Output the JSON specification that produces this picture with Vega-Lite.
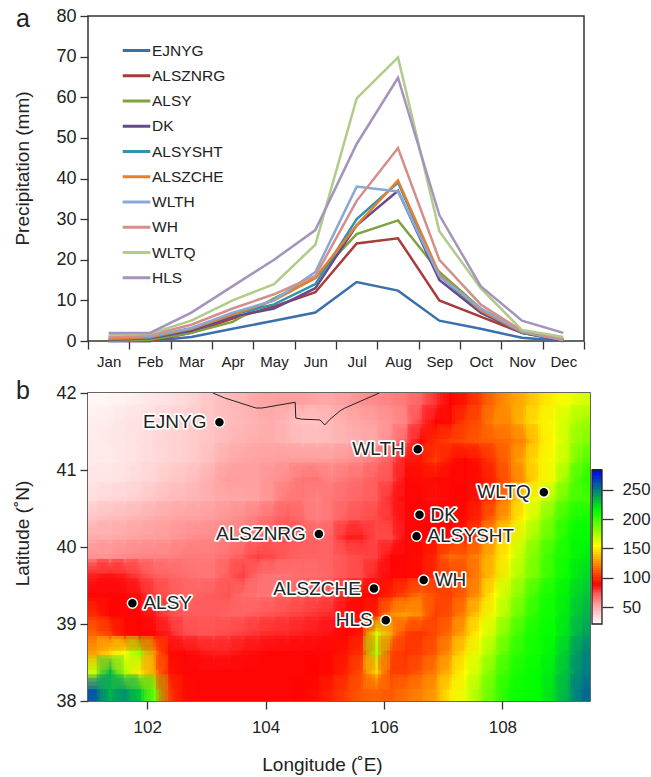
{"$schema":"https://vega.github.io/schema/vega-lite/v6.json","background":"white","padding":{"left":12,"top":6,"right":0,"bottom":0},"spacing":8,
"config":{"view":{"stroke":"#333","strokeWidth":1.5},"font":"Liberation Sans","axis":{"labelFont":"Liberation Sans","titleFont":"Liberation Sans","labelColor":"#222","titleColor":"#222","tickColor":"#333","domain":false,"grid":false,"tickWidth":1.3,"tickSize":8,"titleFontWeight":"normal","titleFontSize":19,"labelFontSize":18,"labelPadding":4},"title":{"font":"Liberation Sans","fontSize":25,"fontWeight":"normal","color":"#222","anchor":"start","frame":"group"}},
"datasets":{"rain":[
{"m":"Jan","s":"EJNYG","p":0},{"m":"Feb","s":"EJNYG","p":0},{"m":"Mar","s":"EJNYG","p":1},{"m":"Apr","s":"EJNYG","p":3},{"m":"May","s":"EJNYG","p":5},{"m":"Jun","s":"EJNYG","p":7},{"m":"Jul","s":"EJNYG","p":14.5},{"m":"Aug","s":"EJNYG","p":12.4},{"m":"Sep","s":"EJNYG","p":5},{"m":"Oct","s":"EJNYG","p":3},{"m":"Nov","s":"EJNYG","p":0.8},{"m":"Dec","s":"EJNYG","p":0},
{"m":"Jan","s":"ALSZNRG","p":0},{"m":"Feb","s":"ALSZNRG","p":0},{"m":"Mar","s":"ALSZNRG","p":2},{"m":"Apr","s":"ALSZNRG","p":5.5},{"m":"May","s":"ALSZNRG","p":8.5},{"m":"Jun","s":"ALSZNRG","p":12},{"m":"Jul","s":"ALSZNRG","p":24},{"m":"Aug","s":"ALSZNRG","p":25.3},{"m":"Sep","s":"ALSZNRG","p":10},{"m":"Oct","s":"ALSZNRG","p":6},{"m":"Nov","s":"ALSZNRG","p":2},{"m":"Dec","s":"ALSZNRG","p":0},
{"m":"Jan","s":"ALSY","p":0},{"m":"Feb","s":"ALSY","p":0.3},{"m":"Mar","s":"ALSY","p":2},{"m":"Apr","s":"ALSY","p":4.7},{"m":"May","s":"ALSY","p":10.5},{"m":"Jun","s":"ALSY","p":15.5},{"m":"Jul","s":"ALSY","p":26.3},{"m":"Aug","s":"ALSY","p":29.7},{"m":"Sep","s":"ALSY","p":17},{"m":"Oct","s":"ALSY","p":8},{"m":"Nov","s":"ALSY","p":2.5},{"m":"Dec","s":"ALSY","p":0.3},
{"m":"Jan","s":"DK","p":0.3},{"m":"Feb","s":"DK","p":0.7},{"m":"Mar","s":"DK","p":2.5},{"m":"Apr","s":"DK","p":6},{"m":"May","s":"DK","p":8},{"m":"Jun","s":"DK","p":13},{"m":"Jul","s":"DK","p":28.5},{"m":"Aug","s":"DK","p":37},{"m":"Sep","s":"DK","p":15},{"m":"Oct","s":"DK","p":7},{"m":"Nov","s":"DK","p":2},{"m":"Dec","s":"DK","p":0.3},
{"m":"Jan","s":"ALSYSHT","p":0.5},{"m":"Feb","s":"ALSYSHT","p":0.8},{"m":"Mar","s":"ALSYSHT","p":3},{"m":"Apr","s":"ALSYSHT","p":6.5},{"m":"May","s":"ALSYSHT","p":9},{"m":"Jun","s":"ALSYSHT","p":14},{"m":"Jul","s":"ALSYSHT","p":30},{"m":"Aug","s":"ALSYSHT","p":39},{"m":"Sep","s":"ALSYSHT","p":16},{"m":"Oct","s":"ALSYSHT","p":7.5},{"m":"Nov","s":"ALSYSHT","p":2},{"m":"Dec","s":"ALSYSHT","p":0.3},
{"m":"Jan","s":"ALSZCHE","p":0.5},{"m":"Feb","s":"ALSZCHE","p":1},{"m":"Mar","s":"ALSZCHE","p":3},{"m":"Apr","s":"ALSZCHE","p":6.5},{"m":"May","s":"ALSZCHE","p":10},{"m":"Jun","s":"ALSZCHE","p":15.5},{"m":"Jul","s":"ALSZCHE","p":28.5},{"m":"Aug","s":"ALSZCHE","p":39.5},{"m":"Sep","s":"ALSZCHE","p":16.5},{"m":"Oct","s":"ALSZCHE","p":7.5},{"m":"Nov","s":"ALSZCHE","p":2.2},{"m":"Dec","s":"ALSZCHE","p":0.3},
{"m":"Jan","s":"WLTH","p":1},{"m":"Feb","s":"WLTH","p":1.2},{"m":"Mar","s":"WLTH","p":3.2},{"m":"Apr","s":"WLTH","p":7},{"m":"May","s":"WLTH","p":10},{"m":"Jun","s":"WLTH","p":17},{"m":"Jul","s":"WLTH","p":38},{"m":"Aug","s":"WLTH","p":36.8},{"m":"Sep","s":"WLTH","p":16},{"m":"Oct","s":"WLTH","p":8},{"m":"Nov","s":"WLTH","p":2.3},{"m":"Dec","s":"WLTH","p":0.2},
{"m":"Jan","s":"WH","p":1},{"m":"Feb","s":"WH","p":1.5},{"m":"Mar","s":"WH","p":4},{"m":"Apr","s":"WH","p":8},{"m":"May","s":"WH","p":11.5},{"m":"Jun","s":"WH","p":16},{"m":"Jul","s":"WH","p":34.5},{"m":"Aug","s":"WH","p":47.5},{"m":"Sep","s":"WH","p":20},{"m":"Oct","s":"WH","p":9},{"m":"Nov","s":"WH","p":2.5},{"m":"Dec","s":"WH","p":0.5},
{"m":"Jan","s":"WLTQ","p":1.5},{"m":"Feb","s":"WLTQ","p":1.8},{"m":"Mar","s":"WLTQ","p":5},{"m":"Apr","s":"WLTQ","p":10},{"m":"May","s":"WLTQ","p":14},{"m":"Jun","s":"WLTQ","p":23.7},{"m":"Jul","s":"WLTQ","p":59.7},{"m":"Aug","s":"WLTQ","p":69.8},{"m":"Sep","s":"WLTQ","p":27},{"m":"Oct","s":"WLTQ","p":13},{"m":"Nov","s":"WLTQ","p":2.7},{"m":"Dec","s":"WLTQ","p":1},
{"m":"Jan","s":"HLS","p":2},{"m":"Feb","s":"HLS","p":2},{"m":"Mar","s":"HLS","p":7},{"m":"Apr","s":"HLS","p":13.5},{"m":"May","s":"HLS","p":20},{"m":"Jun","s":"HLS","p":27.3},{"m":"Jul","s":"HLS","p":48.5},{"m":"Aug","s":"HLS","p":64.8},{"m":"Sep","s":"HLS","p":31},{"m":"Oct","s":"HLS","p":13.5},{"m":"Nov","s":"HLS","p":5},{"m":"Dec","s":"HLS","p":2}],
"cells":[
{"lon":101.125,"lat":41.875,"v":24},{"lon":101.375,"lat":41.875,"v":25},{"lon":101.625,"lat":41.875,"v":26},{"lon":101.875,"lat":41.875,"v":28},{"lon":102.125,"lat":41.875,"v":30},{"lon":102.375,"lat":41.875,"v":32},{"lon":102.625,"lat":41.875,"v":34},{"lon":102.875,"lat":41.875,"v":38},{"lon":103.125,"lat":41.875,"v":42},{"lon":103.375,"lat":41.875,"v":45},{"lon":103.625,"lat":41.875,"v":48},{"lon":103.875,"lat":41.875,"v":52},{"lon":104.125,"lat":41.875,"v":54},{"lon":104.375,"lat":41.875,"v":55},{"lon":104.625,"lat":41.875,"v":55},{"lon":104.875,"lat":41.875,"v":52},{"lon":105.125,"lat":41.875,"v":52},{"lon":105.375,"lat":41.875,"v":55},{"lon":105.625,"lat":41.875,"v":58},{"lon":105.875,"lat":41.875,"v":60},{"lon":106.125,"lat":41.875,"v":62},{"lon":106.375,"lat":41.875,"v":65},{"lon":106.625,"lat":41.875,"v":70},{"lon":106.875,"lat":41.875,"v":80},{"lon":107.125,"lat":41.875,"v":90},{"lon":107.375,"lat":41.875,"v":95},{"lon":107.625,"lat":41.875,"v":105},{"lon":107.875,"lat":41.875,"v":118},{"lon":108.125,"lat":41.875,"v":128},{"lon":108.375,"lat":41.875,"v":135},{"lon":108.625,"lat":41.875,"v":145},{"lon":108.875,"lat":41.875,"v":152},{"lon":109.125,"lat":41.875,"v":158},{"lon":109.375,"lat":41.875,"v":165},
{"lon":101.125,"lat":41.625,"v":27},{"lon":101.375,"lat":41.625,"v":28},{"lon":101.625,"lat":41.625,"v":30},{"lon":101.875,"lat":41.625,"v":32},{"lon":102.125,"lat":41.625,"v":34},{"lon":102.375,"lat":41.625,"v":36},{"lon":102.625,"lat":41.625,"v":38},{"lon":102.875,"lat":41.625,"v":40},{"lon":103.125,"lat":41.625,"v":42},{"lon":103.375,"lat":41.625,"v":44},{"lon":103.625,"lat":41.625,"v":46},{"lon":103.875,"lat":41.625,"v":48},{"lon":104.125,"lat":41.625,"v":50},{"lon":104.375,"lat":41.625,"v":46},{"lon":104.625,"lat":41.625,"v":42},{"lon":104.875,"lat":41.625,"v":42},{"lon":105.125,"lat":41.625,"v":46},{"lon":105.375,"lat":41.625,"v":50},{"lon":105.625,"lat":41.625,"v":52},{"lon":105.875,"lat":41.625,"v":55},{"lon":106.125,"lat":41.625,"v":58},{"lon":106.375,"lat":41.625,"v":62},{"lon":106.625,"lat":41.625,"v":78},{"lon":106.875,"lat":41.625,"v":90},{"lon":107.125,"lat":41.625,"v":92},{"lon":107.375,"lat":41.625,"v":105},{"lon":107.625,"lat":41.625,"v":110},{"lon":107.875,"lat":41.625,"v":125},{"lon":108.125,"lat":41.625,"v":125},{"lon":108.375,"lat":41.625,"v":140},{"lon":108.625,"lat":41.625,"v":150},{"lon":108.875,"lat":41.625,"v":158},{"lon":109.125,"lat":41.625,"v":168},{"lon":109.375,"lat":41.625,"v":178},
{"lon":101.125,"lat":41.375,"v":28},{"lon":101.375,"lat":41.375,"v":29},{"lon":101.625,"lat":41.375,"v":30},{"lon":101.875,"lat":41.375,"v":32},{"lon":102.125,"lat":41.375,"v":34},{"lon":102.375,"lat":41.375,"v":36},{"lon":102.625,"lat":41.375,"v":38},{"lon":102.875,"lat":41.375,"v":40},{"lon":103.125,"lat":41.375,"v":42},{"lon":103.375,"lat":41.375,"v":46},{"lon":103.625,"lat":41.375,"v":48},{"lon":103.875,"lat":41.375,"v":50},{"lon":104.125,"lat":41.375,"v":50},{"lon":104.375,"lat":41.375,"v":48},{"lon":104.625,"lat":41.375,"v":44},{"lon":104.875,"lat":41.375,"v":44},{"lon":105.125,"lat":41.375,"v":46},{"lon":105.375,"lat":41.375,"v":48},{"lon":105.625,"lat":41.375,"v":50},{"lon":105.875,"lat":41.375,"v":52},{"lon":106.125,"lat":41.375,"v":60},{"lon":106.375,"lat":41.375,"v":72},{"lon":106.625,"lat":41.375,"v":88},{"lon":106.875,"lat":41.375,"v":100},{"lon":107.125,"lat":41.375,"v":105},{"lon":107.375,"lat":41.375,"v":108},{"lon":107.625,"lat":41.375,"v":112},{"lon":107.875,"lat":41.375,"v":115},{"lon":108.125,"lat":41.375,"v":118},{"lon":108.375,"lat":41.375,"v":125},{"lon":108.625,"lat":41.375,"v":145},{"lon":108.875,"lat":41.375,"v":155},{"lon":109.125,"lat":41.375,"v":170},{"lon":109.375,"lat":41.375,"v":185},
{"lon":101.125,"lat":41.125,"v":28},{"lon":101.375,"lat":41.125,"v":28},{"lon":101.625,"lat":41.125,"v":30},{"lon":101.875,"lat":41.125,"v":32},{"lon":102.125,"lat":41.125,"v":34},{"lon":102.375,"lat":41.125,"v":36},{"lon":102.625,"lat":41.125,"v":38},{"lon":102.875,"lat":41.125,"v":40},{"lon":103.125,"lat":41.125,"v":45},{"lon":103.375,"lat":41.125,"v":50},{"lon":103.625,"lat":41.125,"v":52},{"lon":103.875,"lat":41.125,"v":54},{"lon":104.125,"lat":41.125,"v":55},{"lon":104.375,"lat":41.125,"v":56},{"lon":104.625,"lat":41.125,"v":56},{"lon":104.875,"lat":41.125,"v":56},{"lon":105.125,"lat":41.125,"v":56},{"lon":105.375,"lat":41.125,"v":58},{"lon":105.625,"lat":41.125,"v":60},{"lon":105.875,"lat":41.125,"v":65},{"lon":106.125,"lat":41.125,"v":72},{"lon":106.375,"lat":41.125,"v":85},{"lon":106.625,"lat":41.125,"v":95},{"lon":106.875,"lat":41.125,"v":105},{"lon":107.125,"lat":41.125,"v":95},{"lon":107.375,"lat":41.125,"v":90},{"lon":107.625,"lat":41.125,"v":95},{"lon":107.875,"lat":41.125,"v":105},{"lon":108.125,"lat":41.125,"v":118},{"lon":108.375,"lat":41.125,"v":135},{"lon":108.625,"lat":41.125,"v":150},{"lon":108.875,"lat":41.125,"v":158},{"lon":109.125,"lat":41.125,"v":172},{"lon":109.375,"lat":41.125,"v":195},
{"lon":101.125,"lat":40.875,"v":30},{"lon":101.375,"lat":40.875,"v":30},{"lon":101.625,"lat":40.875,"v":32},{"lon":101.875,"lat":40.875,"v":34},{"lon":102.125,"lat":40.875,"v":36},{"lon":102.375,"lat":40.875,"v":40},{"lon":102.625,"lat":40.875,"v":42},{"lon":102.875,"lat":40.875,"v":46},{"lon":103.125,"lat":40.875,"v":50},{"lon":103.375,"lat":40.875,"v":56},{"lon":103.625,"lat":40.875,"v":55},{"lon":103.875,"lat":40.875,"v":55},{"lon":104.125,"lat":40.875,"v":58},{"lon":104.375,"lat":40.875,"v":60},{"lon":104.625,"lat":40.875,"v":66},{"lon":104.875,"lat":40.875,"v":66},{"lon":105.125,"lat":40.875,"v":62},{"lon":105.375,"lat":40.875,"v":66},{"lon":105.625,"lat":40.875,"v":68},{"lon":105.875,"lat":40.875,"v":72},{"lon":106.125,"lat":40.875,"v":75},{"lon":106.375,"lat":40.875,"v":88},{"lon":106.625,"lat":40.875,"v":92},{"lon":106.875,"lat":40.875,"v":92},{"lon":107.125,"lat":40.875,"v":88},{"lon":107.375,"lat":40.875,"v":88},{"lon":107.625,"lat":40.875,"v":92},{"lon":107.875,"lat":40.875,"v":100},{"lon":108.125,"lat":40.875,"v":115},{"lon":108.375,"lat":40.875,"v":130},{"lon":108.625,"lat":40.875,"v":150},{"lon":108.875,"lat":40.875,"v":160},{"lon":109.125,"lat":40.875,"v":185},{"lon":109.375,"lat":40.875,"v":205},
{"lon":101.125,"lat":40.625,"v":33},{"lon":101.375,"lat":40.625,"v":35},{"lon":101.625,"lat":40.625,"v":36},{"lon":101.875,"lat":40.625,"v":38},{"lon":102.125,"lat":40.625,"v":42},{"lon":102.375,"lat":40.625,"v":44},{"lon":102.625,"lat":40.625,"v":46},{"lon":102.875,"lat":40.625,"v":48},{"lon":103.125,"lat":40.625,"v":50},{"lon":103.375,"lat":40.625,"v":52},{"lon":103.625,"lat":40.625,"v":52},{"lon":103.875,"lat":40.625,"v":54},{"lon":104.125,"lat":40.625,"v":58},{"lon":104.375,"lat":40.625,"v":65},{"lon":104.625,"lat":40.625,"v":65},{"lon":104.875,"lat":40.625,"v":62},{"lon":105.125,"lat":40.625,"v":66},{"lon":105.375,"lat":40.625,"v":68},{"lon":105.625,"lat":40.625,"v":70},{"lon":105.875,"lat":40.625,"v":72},{"lon":106.125,"lat":40.625,"v":82},{"lon":106.375,"lat":40.625,"v":88},{"lon":106.625,"lat":40.625,"v":88},{"lon":106.875,"lat":40.625,"v":86},{"lon":107.125,"lat":40.625,"v":88},{"lon":107.375,"lat":40.625,"v":90},{"lon":107.625,"lat":40.625,"v":95},{"lon":107.875,"lat":40.625,"v":105},{"lon":108.125,"lat":40.625,"v":125},{"lon":108.375,"lat":40.625,"v":150},{"lon":108.625,"lat":40.625,"v":160},{"lon":108.875,"lat":40.625,"v":175},{"lon":109.125,"lat":40.625,"v":195},{"lon":109.375,"lat":40.625,"v":200},
{"lon":101.125,"lat":40.375,"v":42},{"lon":101.375,"lat":40.375,"v":44},{"lon":101.625,"lat":40.375,"v":46},{"lon":101.875,"lat":40.375,"v":48},{"lon":102.125,"lat":40.375,"v":50},{"lon":102.375,"lat":40.375,"v":52},{"lon":102.625,"lat":40.375,"v":54},{"lon":102.875,"lat":40.375,"v":54},{"lon":103.125,"lat":40.375,"v":56},{"lon":103.375,"lat":40.375,"v":58},{"lon":103.625,"lat":40.375,"v":60},{"lon":103.875,"lat":40.375,"v":64},{"lon":104.125,"lat":40.375,"v":68},{"lon":104.375,"lat":40.375,"v":72},{"lon":104.625,"lat":40.375,"v":68},{"lon":104.875,"lat":40.375,"v":62},{"lon":105.125,"lat":40.375,"v":66},{"lon":105.375,"lat":40.375,"v":72},{"lon":105.625,"lat":40.375,"v":74},{"lon":105.875,"lat":40.375,"v":76},{"lon":106.125,"lat":40.375,"v":80},{"lon":106.375,"lat":40.375,"v":88},{"lon":106.625,"lat":40.375,"v":88},{"lon":106.875,"lat":40.375,"v":90},{"lon":107.125,"lat":40.375,"v":90},{"lon":107.375,"lat":40.375,"v":92},{"lon":107.625,"lat":40.375,"v":100},{"lon":107.875,"lat":40.375,"v":118},{"lon":108.125,"lat":40.375,"v":135},{"lon":108.375,"lat":40.375,"v":155},{"lon":108.625,"lat":40.375,"v":172},{"lon":108.875,"lat":40.375,"v":190},{"lon":109.125,"lat":40.375,"v":205},{"lon":109.375,"lat":40.375,"v":212},
{"lon":101.125,"lat":40.125,"v":50},{"lon":101.375,"lat":40.125,"v":50},{"lon":101.625,"lat":40.125,"v":52},{"lon":101.875,"lat":40.125,"v":54},{"lon":102.125,"lat":40.125,"v":55},{"lon":102.375,"lat":40.125,"v":56},{"lon":102.625,"lat":40.125,"v":58},{"lon":102.875,"lat":40.125,"v":60},{"lon":103.125,"lat":40.125,"v":60},{"lon":103.375,"lat":40.125,"v":60},{"lon":103.625,"lat":40.125,"v":62},{"lon":103.875,"lat":40.125,"v":65},{"lon":104.125,"lat":40.125,"v":70},{"lon":104.375,"lat":40.125,"v":74},{"lon":104.625,"lat":40.125,"v":72},{"lon":104.875,"lat":40.125,"v":70},{"lon":105.125,"lat":40.125,"v":70},{"lon":105.375,"lat":40.125,"v":84},{"lon":105.625,"lat":40.125,"v":84},{"lon":105.875,"lat":40.125,"v":76},{"lon":106.125,"lat":40.125,"v":76},{"lon":106.375,"lat":40.125,"v":88},{"lon":106.625,"lat":40.125,"v":88},{"lon":106.875,"lat":40.125,"v":90},{"lon":107.125,"lat":40.125,"v":92},{"lon":107.375,"lat":40.125,"v":95},{"lon":107.625,"lat":40.125,"v":108},{"lon":107.875,"lat":40.125,"v":130},{"lon":108.125,"lat":40.125,"v":148},{"lon":108.375,"lat":40.125,"v":165},{"lon":108.625,"lat":40.125,"v":182},{"lon":108.875,"lat":40.125,"v":195},{"lon":109.125,"lat":40.125,"v":212},{"lon":109.375,"lat":40.125,"v":215},
{"lon":101.125,"lat":39.875,"v":58},{"lon":101.375,"lat":39.875,"v":58},{"lon":101.625,"lat":39.875,"v":60},{"lon":101.875,"lat":39.875,"v":62},{"lon":102.125,"lat":39.875,"v":62},{"lon":102.375,"lat":39.875,"v":62},{"lon":102.625,"lat":39.875,"v":64},{"lon":102.875,"lat":39.875,"v":64},{"lon":103.125,"lat":39.875,"v":64},{"lon":103.375,"lat":39.875,"v":68},{"lon":103.625,"lat":39.875,"v":72},{"lon":103.875,"lat":39.875,"v":78},{"lon":104.125,"lat":39.875,"v":76},{"lon":104.375,"lat":39.875,"v":72},{"lon":104.625,"lat":39.875,"v":70},{"lon":104.875,"lat":39.875,"v":70},{"lon":105.125,"lat":39.875,"v":70},{"lon":105.375,"lat":39.875,"v":74},{"lon":105.625,"lat":39.875,"v":76},{"lon":105.875,"lat":39.875,"v":78},{"lon":106.125,"lat":39.875,"v":88},{"lon":106.375,"lat":39.875,"v":88},{"lon":106.625,"lat":39.875,"v":92},{"lon":106.875,"lat":39.875,"v":100},{"lon":107.125,"lat":39.875,"v":118},{"lon":107.375,"lat":39.875,"v":115},{"lon":107.625,"lat":39.875,"v":125},{"lon":107.875,"lat":39.875,"v":140},{"lon":108.125,"lat":39.875,"v":155},{"lon":108.375,"lat":39.875,"v":175},{"lon":108.625,"lat":39.875,"v":190},{"lon":108.875,"lat":39.875,"v":205},{"lon":109.125,"lat":39.875,"v":212},{"lon":109.375,"lat":39.875,"v":220},
{"lon":101.125,"lat":39.625,"v":84},{"lon":101.375,"lat":39.625,"v":86},{"lon":101.625,"lat":39.625,"v":84},{"lon":101.875,"lat":39.625,"v":78},{"lon":102.125,"lat":39.625,"v":72},{"lon":102.375,"lat":39.625,"v":70},{"lon":102.625,"lat":39.625,"v":68},{"lon":102.875,"lat":39.625,"v":66},{"lon":103.125,"lat":39.625,"v":66},{"lon":103.375,"lat":39.625,"v":72},{"lon":103.625,"lat":39.625,"v":78},{"lon":103.875,"lat":39.625,"v":68},{"lon":104.125,"lat":39.625,"v":66},{"lon":104.375,"lat":39.625,"v":66},{"lon":104.625,"lat":39.625,"v":68},{"lon":104.875,"lat":39.625,"v":68},{"lon":105.125,"lat":39.625,"v":70},{"lon":105.375,"lat":39.625,"v":74},{"lon":105.625,"lat":39.625,"v":76},{"lon":105.875,"lat":39.625,"v":84},{"lon":106.125,"lat":39.625,"v":88},{"lon":106.375,"lat":39.625,"v":88},{"lon":106.625,"lat":39.625,"v":92},{"lon":106.875,"lat":39.625,"v":100},{"lon":107.125,"lat":39.625,"v":108},{"lon":107.375,"lat":39.625,"v":110},{"lon":107.625,"lat":39.625,"v":125},{"lon":107.875,"lat":39.625,"v":142},{"lon":108.125,"lat":39.625,"v":162},{"lon":108.375,"lat":39.625,"v":178},{"lon":108.625,"lat":39.625,"v":192},{"lon":108.875,"lat":39.625,"v":205},{"lon":109.125,"lat":39.625,"v":215},{"lon":109.375,"lat":39.625,"v":225},
{"lon":101.125,"lat":39.375,"v":88},{"lon":101.375,"lat":39.375,"v":88},{"lon":101.625,"lat":39.375,"v":88},{"lon":101.875,"lat":39.375,"v":86},{"lon":102.125,"lat":39.375,"v":78},{"lon":102.375,"lat":39.375,"v":74},{"lon":102.625,"lat":39.375,"v":70},{"lon":102.875,"lat":39.375,"v":70},{"lon":103.125,"lat":39.375,"v":72},{"lon":103.375,"lat":39.375,"v":74},{"lon":103.625,"lat":39.375,"v":68},{"lon":103.875,"lat":39.375,"v":66},{"lon":104.125,"lat":39.375,"v":66},{"lon":104.375,"lat":39.375,"v":68},{"lon":104.625,"lat":39.375,"v":70},{"lon":104.875,"lat":39.375,"v":72},{"lon":105.125,"lat":39.375,"v":74},{"lon":105.375,"lat":39.375,"v":84},{"lon":105.625,"lat":39.375,"v":90},{"lon":105.875,"lat":39.375,"v":90},{"lon":106.125,"lat":39.375,"v":98},{"lon":106.375,"lat":39.375,"v":108},{"lon":106.625,"lat":39.375,"v":118},{"lon":106.875,"lat":39.375,"v":108},{"lon":107.125,"lat":39.375,"v":105},{"lon":107.375,"lat":39.375,"v":115},{"lon":107.625,"lat":39.375,"v":130},{"lon":107.875,"lat":39.375,"v":155},{"lon":108.125,"lat":39.375,"v":172},{"lon":108.375,"lat":39.375,"v":188},{"lon":108.625,"lat":39.375,"v":205},{"lon":108.875,"lat":39.375,"v":212},{"lon":109.125,"lat":39.375,"v":220},{"lon":109.375,"lat":39.375,"v":230},
{"lon":101.125,"lat":39.125,"v":100},{"lon":101.375,"lat":39.125,"v":90},{"lon":101.625,"lat":39.125,"v":88},{"lon":101.875,"lat":39.125,"v":88},{"lon":102.125,"lat":39.125,"v":84},{"lon":102.375,"lat":39.125,"v":76},{"lon":102.625,"lat":39.125,"v":72},{"lon":102.875,"lat":39.125,"v":72},{"lon":103.125,"lat":39.125,"v":72},{"lon":103.375,"lat":39.125,"v":70},{"lon":103.625,"lat":39.125,"v":70},{"lon":103.875,"lat":39.125,"v":72},{"lon":104.125,"lat":39.125,"v":74},{"lon":104.375,"lat":39.125,"v":76},{"lon":104.625,"lat":39.125,"v":78},{"lon":104.875,"lat":39.125,"v":80},{"lon":105.125,"lat":39.125,"v":82},{"lon":105.375,"lat":39.125,"v":88},{"lon":105.625,"lat":39.125,"v":92},{"lon":105.875,"lat":39.125,"v":98},{"lon":106.125,"lat":39.125,"v":125},{"lon":106.375,"lat":39.125,"v":130},{"lon":106.625,"lat":39.125,"v":125},{"lon":106.875,"lat":39.125,"v":105},{"lon":107.125,"lat":39.125,"v":110},{"lon":107.375,"lat":39.125,"v":125},{"lon":107.625,"lat":39.125,"v":145},{"lon":107.875,"lat":39.125,"v":160},{"lon":108.125,"lat":39.125,"v":178},{"lon":108.375,"lat":39.125,"v":195},{"lon":108.625,"lat":39.125,"v":208},{"lon":108.875,"lat":39.125,"v":213},{"lon":109.125,"lat":39.125,"v":222},{"lon":109.375,"lat":39.125,"v":235},
{"lon":101.125,"lat":38.875,"v":115},{"lon":101.375,"lat":38.875,"v":105},{"lon":101.625,"lat":38.875,"v":92},{"lon":101.875,"lat":38.875,"v":90},{"lon":102.125,"lat":38.875,"v":88},{"lon":102.375,"lat":38.875,"v":84},{"lon":102.625,"lat":38.875,"v":76},{"lon":102.875,"lat":38.875,"v":74},{"lon":103.125,"lat":38.875,"v":74},{"lon":103.375,"lat":38.875,"v":76},{"lon":103.625,"lat":38.875,"v":78},{"lon":103.875,"lat":38.875,"v":80},{"lon":104.125,"lat":38.875,"v":82},{"lon":104.375,"lat":38.875,"v":82},{"lon":104.625,"lat":38.875,"v":84},{"lon":104.875,"lat":38.875,"v":85},{"lon":105.125,"lat":38.875,"v":86},{"lon":105.375,"lat":38.875,"v":90},{"lon":105.625,"lat":38.875,"v":95},{"lon":105.875,"lat":38.875,"v":165},{"lon":106.125,"lat":38.875,"v":130},{"lon":106.375,"lat":38.875,"v":105},{"lon":106.625,"lat":38.875,"v":102},{"lon":106.875,"lat":38.875,"v":108},{"lon":107.125,"lat":38.875,"v":118},{"lon":107.375,"lat":38.875,"v":135},{"lon":107.625,"lat":38.875,"v":155},{"lon":107.875,"lat":38.875,"v":170},{"lon":108.125,"lat":38.875,"v":190},{"lon":108.375,"lat":38.875,"v":205},{"lon":108.625,"lat":38.875,"v":212},{"lon":108.875,"lat":38.875,"v":215},{"lon":109.125,"lat":38.875,"v":225},{"lon":109.375,"lat":38.875,"v":240},
{"lon":101.125,"lat":38.625,"v":130},{"lon":101.375,"lat":38.625,"v":145},{"lon":101.625,"lat":38.625,"v":158},{"lon":101.875,"lat":38.625,"v":180},{"lon":102.125,"lat":38.625,"v":125},{"lon":102.375,"lat":38.625,"v":92},{"lon":102.625,"lat":38.625,"v":88},{"lon":102.875,"lat":38.625,"v":86},{"lon":103.125,"lat":38.625,"v":84},{"lon":103.375,"lat":38.625,"v":84},{"lon":103.625,"lat":38.625,"v":86},{"lon":103.875,"lat":38.625,"v":87},{"lon":104.125,"lat":38.625,"v":88},{"lon":104.375,"lat":38.625,"v":88},{"lon":104.625,"lat":38.625,"v":88},{"lon":104.875,"lat":38.625,"v":88},{"lon":105.125,"lat":38.625,"v":88},{"lon":105.375,"lat":38.625,"v":95},{"lon":105.625,"lat":38.625,"v":102},{"lon":105.875,"lat":38.625,"v":175},{"lon":106.125,"lat":38.625,"v":108},{"lon":106.375,"lat":38.625,"v":102},{"lon":106.625,"lat":38.625,"v":105},{"lon":106.875,"lat":38.625,"v":112},{"lon":107.125,"lat":38.625,"v":128},{"lon":107.375,"lat":38.625,"v":148},{"lon":107.625,"lat":38.625,"v":162},{"lon":107.875,"lat":38.625,"v":180},{"lon":108.125,"lat":38.625,"v":198},{"lon":108.375,"lat":38.625,"v":208},{"lon":108.625,"lat":38.625,"v":212},{"lon":108.875,"lat":38.625,"v":218},{"lon":109.125,"lat":38.625,"v":232},{"lon":109.375,"lat":38.625,"v":248},
{"lon":101.125,"lat":38.375,"v":170},{"lon":101.375,"lat":38.375,"v":235},{"lon":101.625,"lat":38.375,"v":175},{"lon":101.875,"lat":38.375,"v":150},{"lon":102.125,"lat":38.375,"v":130},{"lon":102.375,"lat":38.375,"v":95},{"lon":102.625,"lat":38.375,"v":88},{"lon":102.875,"lat":38.375,"v":88},{"lon":103.125,"lat":38.375,"v":88},{"lon":103.375,"lat":38.375,"v":88},{"lon":103.625,"lat":38.375,"v":88},{"lon":103.875,"lat":38.375,"v":88},{"lon":104.125,"lat":38.375,"v":88},{"lon":104.375,"lat":38.375,"v":88},{"lon":104.625,"lat":38.375,"v":88},{"lon":104.875,"lat":38.375,"v":90},{"lon":105.125,"lat":38.375,"v":92},{"lon":105.375,"lat":38.375,"v":98},{"lon":105.625,"lat":38.375,"v":110},{"lon":105.875,"lat":38.375,"v":145},{"lon":106.125,"lat":38.375,"v":105},{"lon":106.375,"lat":38.375,"v":105},{"lon":106.625,"lat":38.375,"v":112},{"lon":106.875,"lat":38.375,"v":122},{"lon":107.125,"lat":38.375,"v":138},{"lon":107.375,"lat":38.375,"v":155},{"lon":107.625,"lat":38.375,"v":170},{"lon":107.875,"lat":38.375,"v":190},{"lon":108.125,"lat":38.375,"v":205},{"lon":108.375,"lat":38.375,"v":212},{"lon":108.625,"lat":38.375,"v":215},{"lon":108.875,"lat":38.375,"v":222},{"lon":109.125,"lat":38.375,"v":235},{"lon":109.375,"lat":38.375,"v":250},
{"lon":101.125,"lat":38.125,"v":260},{"lon":101.375,"lat":38.125,"v":235},{"lon":101.625,"lat":38.125,"v":245},{"lon":101.875,"lat":38.125,"v":230},{"lon":102.125,"lat":38.125,"v":190},{"lon":102.375,"lat":38.125,"v":105},{"lon":102.625,"lat":38.125,"v":92},{"lon":102.875,"lat":38.125,"v":88},{"lon":103.125,"lat":38.125,"v":88},{"lon":103.375,"lat":38.125,"v":88},{"lon":103.625,"lat":38.125,"v":88},{"lon":103.875,"lat":38.125,"v":88},{"lon":104.125,"lat":38.125,"v":88},{"lon":104.375,"lat":38.125,"v":88},{"lon":104.625,"lat":38.125,"v":90},{"lon":104.875,"lat":38.125,"v":92},{"lon":105.125,"lat":38.125,"v":98},{"lon":105.375,"lat":38.125,"v":105},{"lon":105.625,"lat":38.125,"v":112},{"lon":105.875,"lat":38.125,"v":115},{"lon":106.125,"lat":38.125,"v":112},{"lon":106.375,"lat":38.125,"v":118},{"lon":106.625,"lat":38.125,"v":122},{"lon":106.875,"lat":38.125,"v":130},{"lon":107.125,"lat":38.125,"v":150},{"lon":107.375,"lat":38.125,"v":160},{"lon":107.625,"lat":38.125,"v":178},{"lon":107.875,"lat":38.125,"v":195},{"lon":108.125,"lat":38.125,"v":210},{"lon":108.375,"lat":38.125,"v":213},{"lon":108.625,"lat":38.125,"v":215},{"lon":108.875,"lat":38.125,"v":225},{"lon":109.125,"lat":38.125,"v":238},{"lon":109.375,"lat":38.125,"v":255}],
"border":[{"o":1,"lon":103.11,"lat":42},{"o":2,"lon":103.31,"lat":41.935},{"o":3,"lon":103.84,"lat":41.805},{"o":4,"lon":103.94,"lat":41.805},{"o":5,"lon":104.5,"lat":41.88},{"o":6,"lon":104.51,"lat":41.675},{"o":7,"lon":104.61,"lat":41.66},{"o":8,"lon":104.92,"lat":41.65},{"o":9,"lon":105.0,"lat":41.585},{"o":10,"lon":105.09,"lat":41.66},{"o":11,"lon":105.26,"lat":41.77},{"o":12,"lon":105.34,"lat":41.805},{"o":13,"lon":105.92,"lat":42}],
"sites":[{"n":"EJNYG","lon":103.22,"lat":41.62,"side":"l"},{"n":"WLTH","lon":106.57,"lat":41.27,"side":"l"},{"n":"WLTQ","lon":108.7,"lat":40.71,"side":"l"},{"n":"DK","lon":106.6,"lat":40.42,"side":"r"},{"n":"ALSZNRG","lon":104.9,"lat":40.17,"side":"l"},{"n":"ALSYSHT","lon":106.55,"lat":40.14,"side":"r"},{"n":"ALSZCHE","lon":105.83,"lat":39.46,"side":"l"},{"n":"WH","lon":106.67,"lat":39.57,"side":"r"},{"n":"ALSY","lon":101.75,"lat":39.27,"side":"r"},{"n":"HLS","lon":106.03,"lat":39.05,"side":"l"}],
"bar":[{"v":23},{"v":27},{"v":31},{"v":35},{"v":39},{"v":43},{"v":47},{"v":51},{"v":55},{"v":59},{"v":63},{"v":67},{"v":71},{"v":75},{"v":79},{"v":83},{"v":87},{"v":91},{"v":95},{"v":99},{"v":103},{"v":107},{"v":111},{"v":115},{"v":119},{"v":123},{"v":127},{"v":131},{"v":135},{"v":139},{"v":143},{"v":147},{"v":151},{"v":155},{"v":159},{"v":163},{"v":167},{"v":171},{"v":175},{"v":179},{"v":183},{"v":187},{"v":191},{"v":195},{"v":199},{"v":203},{"v":207},{"v":211},{"v":215},{"v":219},{"v":223},{"v":227},{"v":231},{"v":235},{"v":239},{"v":243},{"v":247},{"v":251},{"v":255},{"v":259},{"v":263},{"v":267},{"v":271},{"v":275},{"v":279},{"v":283}],"frame":[{"a":21,"b":284}]},
"vconcat":[
{"width":496,"height":325,"title":{"text":"a","dx":-72,"dy":29},"data":{"name":"rain"},"mark":{"type":"line","strokeWidth":2.5},
"encoding":{"x":{"field":"m","type":"nominal","sort":["Jan","Feb","Mar","Apr","May","Jun","Jul","Aug","Sep","Oct","Nov","Dec"],"scale":{"type":"band","paddingInner":0,"paddingOuter":0,"domain":["Jan","Feb","Mar","Apr","May","Jun","Jul","Aug","Sep","Oct","Nov","Dec"]},"axis":{"title":null,"labelAngle":0,"labelFontSize":15,"tickBand":"extent","labelPadding":5}},
"y":{"field":"p","type":"quantitative","scale":{"domain":[0,80],"nice":false},"axis":{"values":[0,10,20,30,40,50,60,70,80],"title":"Precipitation (mm)","titleX":-56,"titleY":152}},
"color":{"field":"s","type":"nominal","scale":{"domain":["EJNYG","ALSZNRG","ALSY","DK","ALSYSHT","ALSZCHE","WLTH","WH","WLTQ","HLS"],"range":["#3a70ad","#a83c3a","#7ea23f","#674a8c","#2f93ad","#e47f2e","#89a8d5","#d48e8b","#b0cb8a","#a593bd"]},"legend":{"title":null,"orient":"none","legendX":33,"legendY":19,"symbolType":"stroke","symbolSize":760,"symbolStrokeWidth":3,"labelFontSize":15.5,"labelFont":"Liberation Sans","labelColor":"#222","labelOffset":0,"rowPadding":1.25,"padding":0}}}},
{"width":502,"height":308,"title":{"text":"b","dx":-72,"dy":24},"layer":[
{"layer":[
{"data":{"name":"cells"},"mark":{"type":"rect","width":15.3,"height":19.8,"clip":true},"encoding":{"x":{"field":"lon","type":"quantitative","scale":{"domain":[101,109.48],"nice":false,"zero":false},"axis":{"values":[102,104,106,108],"format":"d","title":"Longitude (˚E)","labelFontSize":17,"labelPadding":10,"titleX":234,"titleY":54}},"y":{"field":"lat","type":"quantitative","scale":{"domain":[38,42],"nice":false,"zero":false},"axis":{"values":[38,39,40,41,42],"format":"d","title":"Latitude (˚N)","titleX":-56,"titleY":140}},"fill":{"field":"v","type":"quantitative","legend":null,"scale":{"domain":[21,55,75,89,155,215,284],"range":["#ffffff","#ff9f9f","#ff5050","#ff0000","#ffff00","#00ff00","#0000ff"],"interpolate":"rgb"}}}},
{"data":{"name":"cells"},"mark":{"type":"rect","width":21,"height":27,"opacity":0.5,"clip":true},"encoding":{"x":{"field":"lon","type":"quantitative"},"y":{"field":"lat","type":"quantitative"},"fill":{"field":"v","type":"quantitative"}}},
{"data":{"name":"cells"},"mark":{"type":"rect","width":27,"height":34,"opacity":0.3,"clip":true},"encoding":{"x":{"field":"lon","type":"quantitative"},"y":{"field":"lat","type":"quantitative"},"fill":{"field":"v","type":"quantitative"}}},
{"data":{"name":"border"},"mark":{"type":"line","color":"#222","strokeWidth":1,"clip":true},"encoding":{"x":{"field":"lon","type":"quantitative"},"y":{"field":"lat","type":"quantitative"},"order":{"field":"o"}}},
{"data":{"name":"sites"},"mark":{"type":"point","filled":true,"fill":"black","stroke":"white","strokeWidth":1.5,"opacity":1,"size":100},"encoding":{"x":{"field":"lon","type":"quantitative"},"y":{"field":"lat","type":"quantitative"}}},
{"data":{"name":"sites"},"transform":[{"filter":"datum.side=='l'"}],"mark":{"type":"text","align":"right","dx":-13,"fontSize":19,"stroke":"white","strokeWidth":3.5,"strokeJoin":"round","fill":"white"},"encoding":{"x":{"field":"lon","type":"quantitative"},"y":{"field":"lat","type":"quantitative"},"text":{"field":"n"}}},
{"data":{"name":"sites"},"transform":[{"filter":"datum.side=='r'"}],"mark":{"type":"text","align":"left","dx":11,"fontSize":19,"stroke":"white","strokeWidth":3.5,"strokeJoin":"round","fill":"white"},"encoding":{"x":{"field":"lon","type":"quantitative"},"y":{"field":"lat","type":"quantitative"},"text":{"field":"n"}}},
{"data":{"name":"sites"},"transform":[{"filter":"datum.side=='l'"}],"mark":{"type":"text","align":"right","dx":-13,"fontSize":19,"fill":"#222"},"encoding":{"x":{"field":"lon","type":"quantitative"},"y":{"field":"lat","type":"quantitative"},"text":{"field":"n"}}},
{"data":{"name":"sites"},"transform":[{"filter":"datum.side=='r'"}],"mark":{"type":"text","align":"left","dx":11,"fontSize":19,"fill":"#222"},"encoding":{"x":{"field":"lon","type":"quantitative"},"y":{"field":"lat","type":"quantitative"},"text":{"field":"n"}}}
]},
{"layer":[
{"data":{"name":"bar"},"mark":{"type":"rect","height":3},"encoding":{"x":{"datum":0,"type":"quantitative","scale":{"domain":[0,1],"range":[504,514]},"axis":null},"x2":{"datum":1},"y":{"field":"v","type":"quantitative","scale":{"domain":[21,284],"range":[231,77],"nice":false,"zero":false},"axis":{"orient":"right","offset":12,"values":[50,100,150,200,250],"title":null,"tickSize":11,"labelPadding":9,"labelFontSize":16.8}},"fill":{"field":"v","type":"quantitative","legend":null}}},
{"data":{"name":"frame"},"mark":{"type":"rect","fill":null,"stroke":"#222","strokeWidth":1.3},"encoding":{"x":{"datum":0,"type":"quantitative"},"x2":{"datum":1},"y":{"field":"a","type":"quantitative"},"y2":{"field":"b"}}}
]}
],"resolve":{"scale":{"x":"independent","y":"independent"}}}
]}
